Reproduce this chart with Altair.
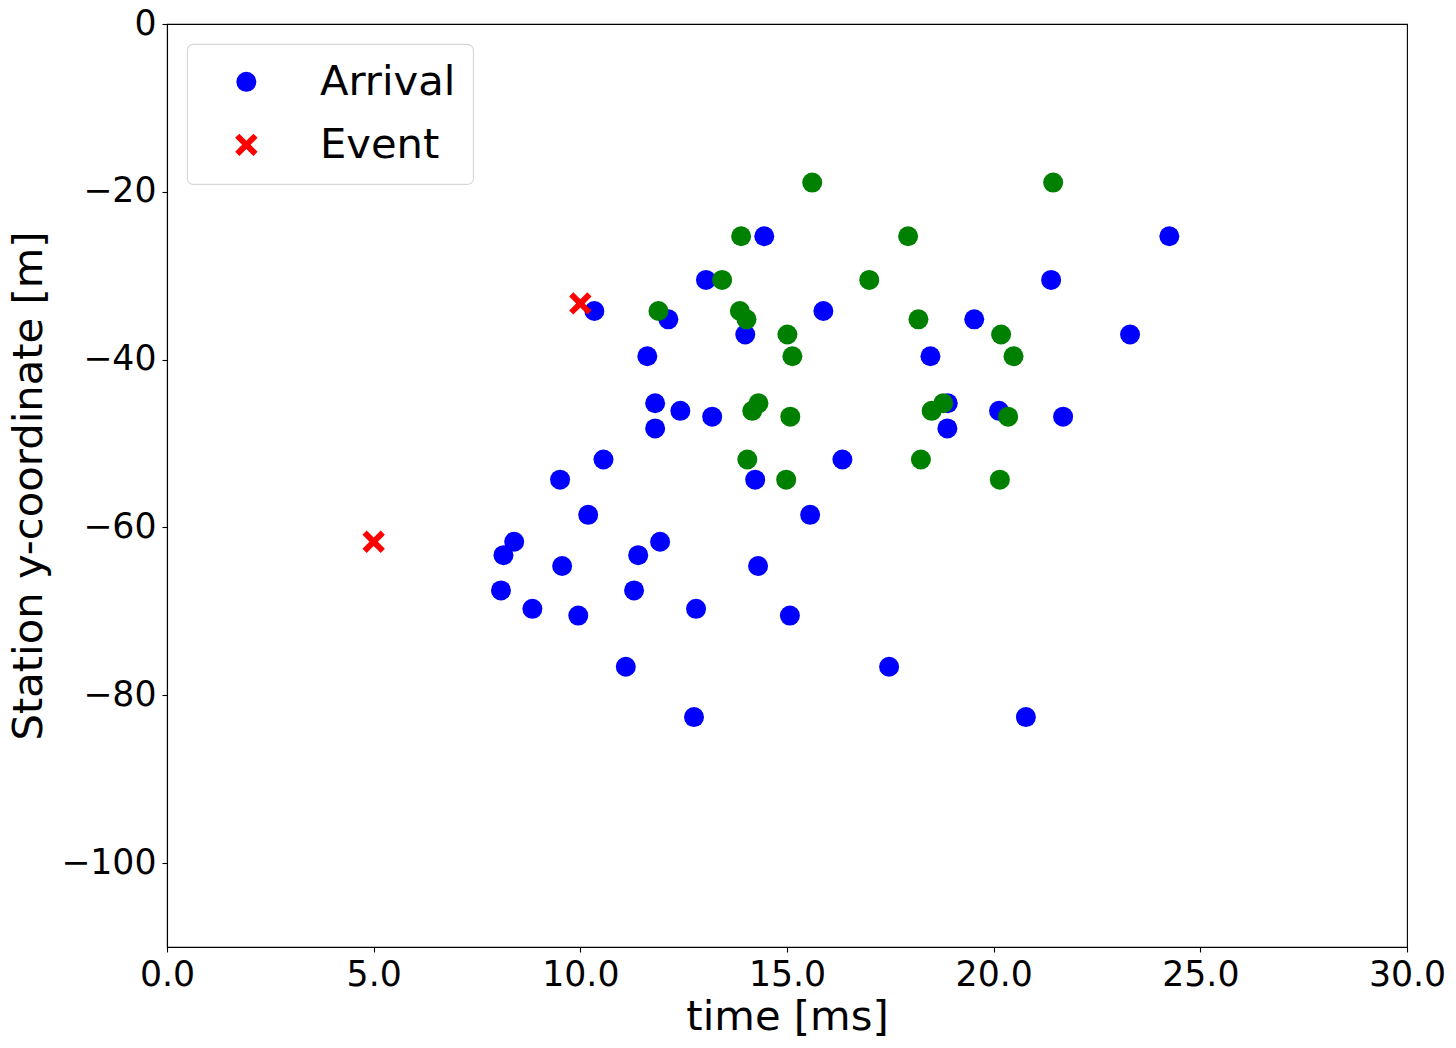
import pandas as pd
import altair as alt

# station y-coordinates with an arrival pick (blue) for both events
arrival_y = [-25.3, -30.5, -34.2, -35.2, -37.0, -39.6, -45.2, -46.1, -46.8, -48.2, -51.9,
             -54.3, -58.5, -61.7, -63.3, -64.6, -67.5, -69.7, -70.5, -76.6, -82.6]
arrival_t_a = [14.45, 13.04, 10.34, 12.13, 13.99, 11.62, 11.81, 12.42, 13.19, 11.81, 10.56,
               9.51, 10.19, 8.40, 8.14, 9.56, 8.08, 8.84, 9.95, 11.10, 12.75]
arrival_t_b = [24.25, 21.39, 15.88, 19.53, 23.30, 18.47, 18.89, 20.13, 21.68, 18.88, 16.34,
               14.23, 15.56, 11.93, 11.40, 14.30, 11.30, 12.80, 15.07, 17.47, 20.78]

# second set of picks (green, not in the legend)
green_y = [-18.9, -25.3, -30.5, -34.2, -35.2, -37.0, -39.6, -45.2, -46.1, -46.8, -51.9, -54.3]
green_t_a = [15.61, 13.89, 13.43, 11.89, 14.02, 15.01, 15.13, 14.31, 14.16, 15.08, 14.04, 14.98]
green_t_b = [21.44, 17.93, 16.99, 13.86, 18.18, 20.18, 20.48, 18.78, 18.50, 20.35, 18.24, 20.15]

# events
event_t = [10.0, 5.0]
event_y = [-33.3, -61.7]

x_ticks = [0, 5, 10, 15, 20, 25, 30]
y_ticks = [0, -20, -40, -60, -80, -100]

FONT = "DejaVu Sans"
# "x" marker as a filled outline so it can share one layer (and legend) with the circles
X_PATH = ("M0,-0.42L0.7,-1.12L1.12,-0.7L0.42,0L1.12,0.7L0.7,1.12L0,0.42"
          "L-0.7,1.12L-1.12,0.7L-0.42,0L-1.12,-0.7L-0.7,-1.12Z")

df = pd.concat([
    pd.DataFrame({"t": arrival_t_a + arrival_t_b, "y": arrival_y + arrival_y, "kind": "Arrival"}),
    pd.DataFrame({"t": event_t, "y": event_y, "kind": "Event"}),
], ignore_index=True)
df_green = pd.DataFrame({"t": green_t_a + green_t_b, "y": green_y + green_y})

x_enc = alt.X("t:Q", title="time [ms]",
              scale=alt.Scale(domain=[0, 30], nice=False, zero=False),
              axis=alt.Axis(values=x_ticks, format=".1f", labelFlush=False, titlePadding=5))
y_enc = alt.Y("y:Q", title="Station y-coordinate [m]",
              scale=alt.Scale(domain=[-110, 0], nice=False, zero=False),
              axis=alt.Axis(values=y_ticks, format="d", labelFlush=False, titlePadding=10))

puntos = alt.Chart(df).mark_point(filled=True, size=400, opacity=1).encode(
    x=x_enc,
    y=y_enc,
    color=alt.Color("kind:N", title=None,
                    scale=alt.Scale(domain=["Arrival", "Event"], range=["#0000ff", "#ff0000"]),
                    legend=alt.Legend(orient="none", legendX=20, legendY=20)),
    shape=alt.Shape("kind:N", title=None,
                    scale=alt.Scale(domain=["Arrival", "Event"], range=["circle", X_PATH])),
)

verdes = alt.Chart(df_green).mark_point(filled=True, size=400, opacity=1, color="#008000").encode(
    x="t:Q",
    y="y:Q",
)

chart = (
    alt.layer(puntos, verdes)
    .properties(width=1240, height=923, autosize="none",
                padding={"left": 159, "top": 16, "right": 40, "bottom": 90})
    .configure_view(stroke="black", strokeWidth=1.1)
    .configure_axis(
        grid=False, domainColor="black", domainWidth=1.1,
        tickColor="black", tickWidth=1.1, tickSize=5,
        labelFont=FONT, labelFontSize=34.7, labelColor="black", labelPadding=6,
        titleFont=FONT, titleFontSize=41.7, titleColor="black", titleFontWeight="normal",
    )
    .configure_legend(
        labelFont=FONT, labelFontSize=41.7, labelColor="black",
        padding=17, strokeColor="#d6d6d6", strokeWidth=1.1, cornerRadius=6, fillColor="white",
        symbolSize=400, symbolStrokeWidth=0, symbolOffset=21.5, labelOffset=52.7, rowPadding=20,
    )
)

chart.save("out.html", embed_options={"renderer": "svg", "actions": False})
